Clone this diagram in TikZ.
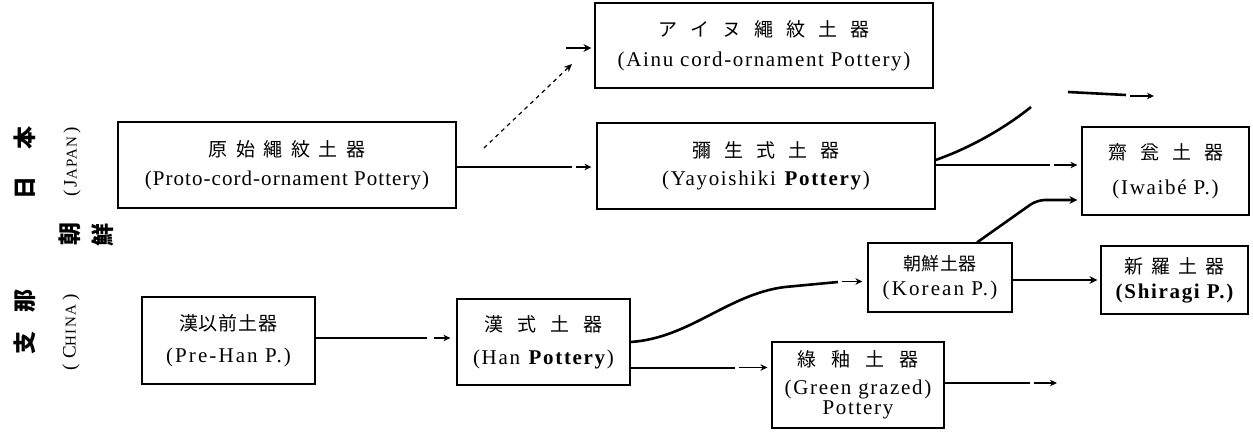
\documentclass[tikz,border=0pt]{standalone}
\usepackage{fontspec}
\setmainfont{Liberation Serif}
\newfontfamily\cjk{Noto Sans CJK JP}
\newfontfamily\en[LetterSpace=8]{Liberation Serif}
\newfontfamily\enn[LetterSpace=5]{Liberation Serif}
\usetikzlibrary{arrows.meta}
\newlength\jgap
\newcommand\jg{\hspace{\jgap}}
\newcommand\jfont[2]{\cjk\fontsize{#1}{20}\selectfont\setlength\jgap{#2}}
\begin{document}
\begin{tikzpicture}[x=1pt,y=-1pt,
  box/.style={draw, line width=1.2pt, inner sep=0pt, align=center,
    font=\fontsize{21}{20}\selectfont},
  thickline/.style={line width=2.6pt},
  thinarrow/.style={line width=1.2pt, -{Stealth[length=7pt,width=6.5pt]}},
  conn/.style={line width=2.6pt, -{Stealth[length=8pt,width=8pt]}},
  dashline/.style={line width=1.2pt, dash pattern=on 4pt off 4pt, -{Stealth[length=8pt,width=7pt]}},
  side/.style={rotate=90, inner sep=0pt},
]
\fill[white] (0,0) rectangle (1253,438);
\useasboundingbox (0,0) rectangle (1253,438);

% side labels
\node[side, font=\cjk\bfseries\fontsize{23}{23}\selectfont] (nihon) at (25,163) {日\hspace{27pt}本};
\node[side, font=\en\fontsize{19}{19}\selectfont] (japan) at (72,162)
  {(\hspace{3pt}J{\fontsize{15}{15}\selectfont APAN}\hspace{3pt})};
\node[side, font=\cjk\bfseries\fontsize{23}{23}\selectfont] (cho) at (70,234) {朝};
\node[side, font=\cjk\bfseries\fontsize{23}{23}\selectfont] (sen) at (103,235) {鮮};
\node[side, font=\cjk\bfseries\fontsize{23}{23}\selectfont] (shina) at (25,322) {支\hspace{20pt}那};
\node[side, font=\en\fontsize{19}{19}\selectfont] (china) at (71,332)
  {(\hspace{5pt}C{\fontsize{15}{15}\selectfont HINA}\hspace{5pt})};

% boxes
\node[box, minimum width=338pt, minimum height=86pt] (proto) at (287,165)
  {{\jfont{19}{8.5pt}原\jg 始\jg 繩\jg 紋\jg 土\jg 器}\\[9pt]{\enn (Proto-cord-ornament Pottery)}};
\node[box, minimum width=338pt, minimum height=85pt] (ainu) at (764,45.5)
  {{\jfont{19}{13pt}ア\jg イ\jg ヌ\jg 繩\jg 紋\jg 土\jg 器}\\[10pt]{\en (Ainu cord-ornament Pottery)}};
\node[box, minimum width=338pt, minimum height=86pt] (yayoi) at (766,166)
  {{\jfont{19}{13pt}彌\jg 生\jg 式\jg 土\jg 器}\\[8pt]{\en (Yayoishiki \textbf{Pottery})}};
\node[box, minimum width=167pt, minimum height=88pt] (iwaibe) at (1165.5,171)
  {{\jfont{19}{13pt}齋\jg 瓮\jg 土\jg 器}\\[15pt]{\en (Iwaibé P.)}};
\node[box, minimum width=144pt, minimum height=69pt] (korean) at (940,277.5)
  {{\jfont{18}{0.5pt}朝\jg 鮮\jg 土\jg 器}\\[5pt]{\en\addfontfeatures{LetterSpace=10}(Korean P.)}};
\node[box, minimum width=147pt, minimum height=68pt] (shiragi) at (1174.5,280)
  {{\jfont{19}{8pt}新\jg 羅\jg 土\jg 器}\\[5pt]{\en\bfseries (Shiragi P.)}};
\node[box, minimum width=173pt, minimum height=87pt] (prehan) at (228.5,340.5)
  {{\jfont{19}{1pt}漢\jg 以\jg 前\jg 土\jg 器}\\[12pt]{\en\addfontfeatures{LetterSpace=10}(Pre-Han P.)}};
\node[box, minimum width=173pt, minimum height=86pt] (han) at (543.5,342)
  {{\jfont{19}{14pt}漢\jg 式\jg 土\jg 器}\\[13pt]{\en (Han \textbf{Pottery})}};
\node[box, minimum width=172pt, minimum height=86pt] (green) at (858,385)
  {{\jfont{19}{15pt}綠\jg 釉\jg 土\jg 器}\\[8pt]{\en (Green grazed)}\\[0pt]{\en Pottery}};

% connectors
\coordinate (p1) at (572,167);
\coordinate (p2) at (576,167);
\draw[thickline] ([yshift=-2pt]proto.east) -- (p1);
\draw[thinarrow, shorten >=5pt] (p2) -- ([yshift=-1pt]yayoi.west);

\coordinate (d1) at (484,148);
\coordinate (d2) at (572,64);
\draw[dashline] (d1) -- (d2);
\coordinate (a1) at (566,48);
\draw[conn, shorten >=3pt] (a1) -- ([yshift=-2.5pt]ainu.west);

\coordinate (y1) at (1050,165);
\coordinate (y2) at (1054,165);
\draw[thickline] ([yshift=1pt]yayoi.east) -- (y1);
\draw[thinarrow, shorten >=4pt] (y2) -- ([yshift=6pt]iwaibe.west);

\coordinate (u1) at (1031,107);
\coordinate (u2) at (1068,92);
\coordinate (u3) at (1126,95);
\coordinate (u4) at (1130,96);
\coordinate (u5) at (1154,96);
\draw[thickline] ([yshift=6pt]yayoi.east) .. controls (970,148) and (1005,128) .. (u1);
\draw[thickline] (u2) -- (u3);
\draw[thinarrow] (u4) -- (u5);

\coordinate (k1) at (1037,200);
\draw[conn, rounded corners=8pt, shorten >=4pt] ([xshift=37pt]korean.north) -- (k1) -- ([yshift=-29pt]iwaibe.west);

\coordinate (h1) at (427,338);
\coordinate (h2) at (434,338);
\draw[thickline] ([yshift=2.5pt]prehan.east) -- (h1);
\draw[thinarrow, shorten >=6pt] (h2) -- ([yshift=4pt]han.west);

\coordinate (c1) at (838,282);
\coordinate (c2) at (842,281.5);
\draw[thickline] (han.east) .. controls (690,338) and (728,294) .. (785,287) -- (c1);
\draw[thinarrow, shorten >=5pt] (c2) -- ([yshift=-4pt]korean.west);

\coordinate (g1) at (735,368);
\coordinate (g2) at (739,367.5);
\draw[thickline] ([yshift=-26pt]han.east) -- (g1);
\draw[thinarrow, shorten >=4pt] (g2) -- ([yshift=17.5pt]green.west);

\coordinate (o1) at (1030,383);
\coordinate (o2) at (1034,383);
\coordinate (o3) at (1057,383);
\draw[thickline] ([yshift=2pt]green.east) -- (o1);
\draw[thinarrow] (o2) -- (o3);

\draw[conn, shorten >=3pt] ([yshift=-2.5pt]korean.east) -- (shiragi.west);
\end{tikzpicture}
\end{document}
